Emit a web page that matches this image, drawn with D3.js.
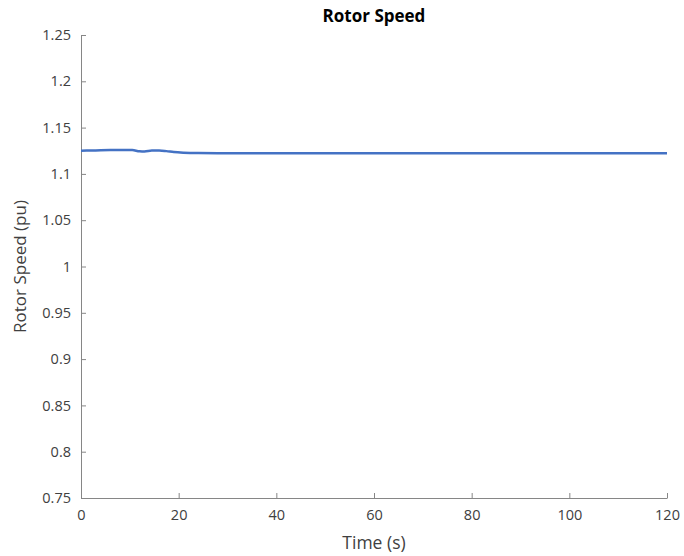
<!DOCTYPE html>
<html>
<head>
<meta charset="utf-8">
<script src="https://cdn.jsdelivr.net/npm/d3@7"></script>
<style>
  body { margin: 0; background: #fff; }
  text { font-family: 'Open Sans', sans-serif; }
</style>
</head>
<body>
<svg id="chart" width="684" height="556"></svg>
<script>
'use strict';

// data
const times = [0, 3, 6, 9, 10.5, 12, 13, 14.5, 16, 17.5, 19, 21, 24, 28, 35, 50, 70, 90, 110, 120];
const speeds = [1.125, 1.1254, 1.1257, 1.1259, 1.1257, 1.1244, 1.1242, 1.1252, 1.1253, 1.1246, 1.1236, 1.1229, 1.1225, 1.1224, 1.1224, 1.1224, 1.1224, 1.1224, 1.1223, 1.1223];
const xTicks = [0, 20, 40, 60, 80, 100, 120];
const yTicks = [0.75, 0.8, 0.85, 0.9, 0.95, 1, 1.05, 1.1, 1.15, 1.2, 1.25];

const margin = { top: 35, right: 17, bottom: 58, left: 81 };
const svg = d3.select('#chart');
const width = 684 - margin.left - margin.right;
const height = 556 - margin.top - margin.bottom;

const xScale = d3.scaleLinear().domain([0, 120]).range([0, width]);
const yScale = d3.scaleLinear().domain([0.75, 1.25]).range([height, 0]);

const g = svg.append('g')
  .attr('transform', 'translate(' + margin.left + ',' + margin.top + ')');

const axisColor = '#868686';
const textColor = '#404040';

g.append('g')
  .attr('transform', 'translate(0,' + height + ')')
  .call(d3.axisBottom(xScale).tickValues(xTicks).tickSizeInner(-5).tickSizeOuter(0).tickPadding(12))
  .call((a) => {
    a.selectAll('line').attr('stroke', axisColor);
    a.select('.domain').attr('stroke', axisColor);
    a.selectAll('text').attr('fill', textColor).style('font-size', '14.5px');
  });

g.append('g')
  .call(d3.axisLeft(yScale).tickValues(yTicks).tickFormat((d) => String(+d.toFixed(2))).tickSizeInner(-5).tickSizeOuter(0).tickPadding(10))
  .call((a) => {
    a.selectAll('line').attr('stroke', axisColor);
    a.select('.domain').attr('stroke', axisColor);
    a.selectAll('text').attr('fill', textColor).style('font-size', '14.5px');
  });

const line = d3.line()
  .x((d, i) => xScale(times[i]))
  .y((d) => yScale(d))
  .curve(d3.curveMonotoneX);

g.append('path')
  .datum(speeds)
  .attr('fill', 'none')
  .attr('stroke', '#4472C4')
  .attr('stroke-width', 2.5)
  .attr('d', line);

// titles
svg.append('text')
  .attr('x', margin.left + width / 2)
  .attr('y', 22)
  .attr('text-anchor', 'middle')
  .style('font-size', '17px')
  .style('font-weight', 'bold')
  .attr('fill', '#000')
  .text('Rotor Speed');

svg.append('text')
  .attr('x', margin.left + width / 2)
  .attr('y', 549)
  .attr('text-anchor', 'middle')
  .style('font-size', '17.5px')
  .attr('fill', textColor)
  .text('Time (s)');

svg.append('text')
  .attr('transform', 'translate(26,' + (margin.top + height / 2) + ') rotate(-90)')
  .attr('text-anchor', 'middle')
  .style('font-size', '17px')
  .attr('fill', textColor)
  .text('Rotor Speed (pu)');
</script>
</body>
</html>
